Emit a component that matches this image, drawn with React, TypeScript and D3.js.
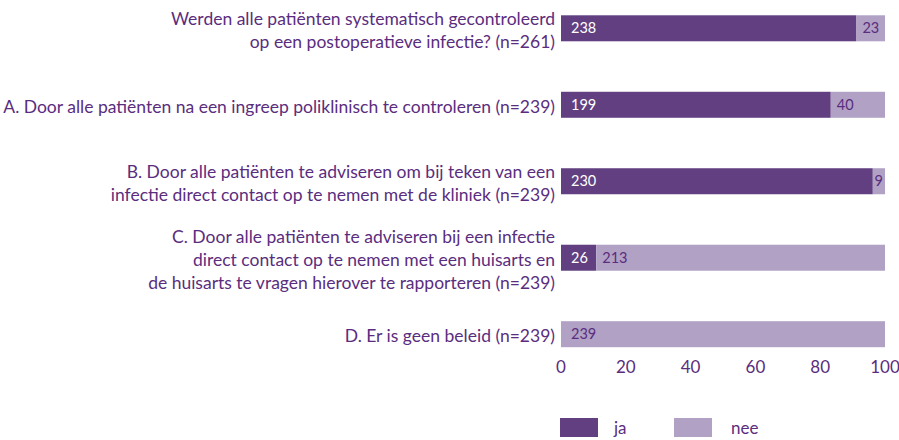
import React from 'react';
import * as d3 from 'd3';

const categories = [
  ['Werden alle patiënten systematisch gecontroleerd', 'op een postoperatieve infectie? (n=261)'],
  ['A. Door alle patiënten na een ingreep poliklinisch te controleren (n=239)'],
  ['B. Door alle patiënten te adviseren om bij teken van een', 'infectie direct contact op te nemen met de kliniek (n=239)'],
  ['C. Door alle patiënten te adviseren bij een infectie', 'direct contact op te nemen met een huisarts en', 'de huisarts te vragen hierover te rapporteren (n=239)'],
  ['D. Er is geen beleid (n=239)'],
];
const ja = [238, 199, 230, 26, 0];
const nee = [23, 40, 9, 213, 239];
const xTicks = [0, 20, 40, 60, 80, 100];
const seriesNames = ['ja', 'nee'];

const DARK = '#613f80';
const LIGHT = '#b0a1c5';
const TEXT = '#5a2d7e';
const FONT = 'Lato, "Open Sans", sans-serif';

export default function App() {
  const width = 899;
  const height = 440;
  const x = d3.scaleLinear().domain([0, 100]).range([561, 885]);
  const y = d3.scaleBand<number>().domain(d3.range(categories.length)).range([0, 362.5]).paddingInner(0.66).paddingOuter(0.2);
  const bh = y.bandwidth();
  const lineH = 23;

  return (
    <svg width={width} height={height} style={{ position: 'absolute', left: 0, top: 0, fontFamily: FONT }}>
      {categories.map((lines, i) => {
        const total = ja[i] + nee[i];
        const pj = (ja[i] / total) * 100;
        const y0 = y(i)!;
        const cy = y0 + bh / 2;
        const x0 = x(0);
        const xm = x(pj);
        const x1 = x(100);
        const startY = cy - ((lines.length - 1) * lineH) / 2 + 8;
        const lightW = x1 - xm;
        const lightOff = Math.min(6, Math.max(1, (lightW - 9) / 2));
        return (
          <g key={i}>
            <text x={555} textAnchor="end" fill={TEXT} fontSize={17.5}>
              {lines.map((l, k) => (
                <tspan key={k} x={555} y={startY + k * lineH}>{l}</tspan>
              ))}
            </text>
            {ja[i] > 0 && <rect x={x0} y={y0} width={xm - x0} height={bh} fill={DARK} />}
            {nee[i] > 0 && <rect x={xm} y={y0} width={x1 - xm} height={bh} fill={LIGHT} />}
            {ja[i] > 0 && (
              <text x={x0 + 10} y={cy + 5} fill="#fff" fontSize={14.5}>{ja[i]}</text>
            )}
            {nee[i] > 0 && (
              <text x={ja[i] > 0 ? xm + lightOff : x0 + 10} y={cy + 5} fill={TEXT} fontSize={14.5}>{nee[i]}</text>
            )}
          </g>
        );
      })}
      {xTicks.map((t) => (
        <text key={t} x={x(t)} y={373} textAnchor="middle" fill={TEXT} fontSize={17}>{t}</text>
      ))}
      {seriesNames.map((s, i) => (
        <g key={s} transform={`translate(${560 + i * 114},418)`}>
          <rect width={38} height={19} fill={i === 0 ? DARK : LIGHT} />
          <text x={i === 0 ? 54 : 57} y={16} fill={TEXT} fontSize={17}>{s}</text>
        </g>
      ))}
    </svg>
  );
}
